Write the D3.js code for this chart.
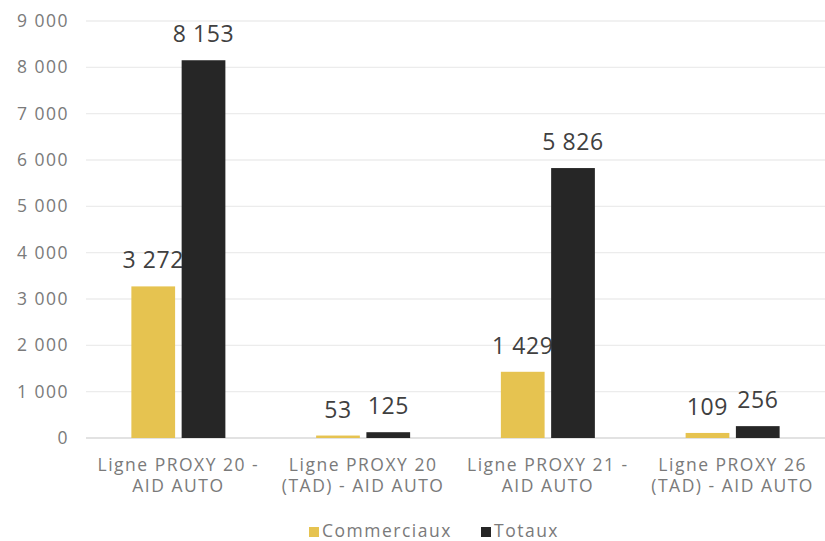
<!DOCTYPE html>
<html><head><meta charset="utf-8">
<script src="https://cdn.jsdelivr.net/npm/d3@7"></script>
<style>
body{margin:0;background:#fff;}
svg{font-family:"Open Sans","DejaVu Sans",sans-serif;}
</style></head>
<body>
<svg id="chart" width="825" height="541"></svg>
<script>
// Data
const categories = [
  ["Ligne PROXY 20 -", "AID AUTO"],
  ["Ligne PROXY 20", "(TAD) - AID AUTO"],
  ["Ligne PROXY 21 -", "AID AUTO"],
  ["Ligne PROXY 26", "(TAD) - AID AUTO"]
];
const seriesNames = ["Commerciaux", "Totaux"];
const commerciaux = [3272, 53, 1429, 109];
const totaux = [8153, 125, 5826, 256];
const yTicks = [0, 1000, 2000, 3000, 4000, 5000, 6000, 7000, 8000, 9000];
const colors = ["#E6C350", "#262626"];

(function () {
  const fr = d3.formatLocale({decimal: ",", thousands: " ", grouping: [3], currency: ["", " €"]});
  const fmt = fr.format(",d");

  const svg = d3.select("#chart");
  const plotLeft = 86, plotRight = 825, plotTop = 21, plotBottom = 438;

  const x = d3.scaleBand().domain(d3.range(categories.length)).range([plotLeft, plotRight]);
  const xs = d3.scaleBand().domain([0, 1]).range([0, 94]).paddingInner(0.13);
  const y = d3.scaleLinear().domain([0, 9000]).range([plotBottom, plotTop]);

  // grid lines
  svg.append("g").selectAll("line").data(yTicks).join("line")
    .attr("x1", plotLeft).attr("x2", plotRight)
    .attr("y1", d => y(d)).attr("y2", d => y(d))
    .attr("stroke", d => d === 0 ? "#d9d9d9" : "#ececec").attr("stroke-width", 1.3);

  // y axis labels
  const yAxis = d3.axisLeft(y).tickValues(yTicks).tickFormat(fmt).tickSize(0).tickPadding(0);
  const ga = svg.append("g").attr("transform", "translate(69,0)").call(yAxis);
  ga.select(".domain").remove();
  ga.selectAll("text")
    .attr("fill", "#7a7a7a").attr("font-size", 17.5)
    .attr("letter-spacing", 1.5)
    .attr("font-family", "'Open Sans', sans-serif");

  const series = [commerciaux, totaux];
  const groupOffset = (x.bandwidth() - 94) / 2;

  series.forEach((vals, si) => {
    const g = svg.append("g");
    g.selectAll("rect").data(vals).join("rect")
      .attr("x", (d, i) => x(i) + groupOffset + xs(si))
      .attr("width", xs.bandwidth())
      .attr("y", d => y(d))
      .attr("height", d => y(0) - y(d))
      .attr("fill", colors[si]);
    g.selectAll("text").data(vals).join("text")
      .attr("x", (d, i) => x(i) + groupOffset + xs(si) + xs.bandwidth() / 2)
      .attr("y", d => y(d) - 18)
      .attr("text-anchor", "middle")
      .attr("font-size", 23)
      .attr("letter-spacing", 0.6)
      .attr("fill", "#404040")
      .text(d => fmt(d));
  });

  // category labels, one text per line
  const cl = svg.append("g");
  categories.forEach((lines, i) => {
    const cx = x(i) + x.bandwidth() / 2;
    lines.forEach((l, k) => cl.append("text")
      .attr("x", cx)
      .attr("y", 471 + k * 21)
      .attr("text-anchor", "middle")
      .attr("font-size", 17.5)
      .attr("letter-spacing", 1.5)
      .attr("fill", "#7a7a7a")
      .text(l));
  });

  // legend
  const lg = svg.append("g");
  const legendX = [309, 481];
  seriesNames.forEach((n, i) => {
    lg.append("rect").attr("x", legendX[i]).attr("y", 527).attr("width", 10).attr("height", 10).attr("fill", colors[i]);
    lg.append("text").attr("x", legendX[i] + 13).attr("y", 537)
      .attr("font-size", 17.5).attr("letter-spacing", 1.5)
      .attr("fill", "#7a7a7a").text(n);
  });
})();
</script>
</body></html>
